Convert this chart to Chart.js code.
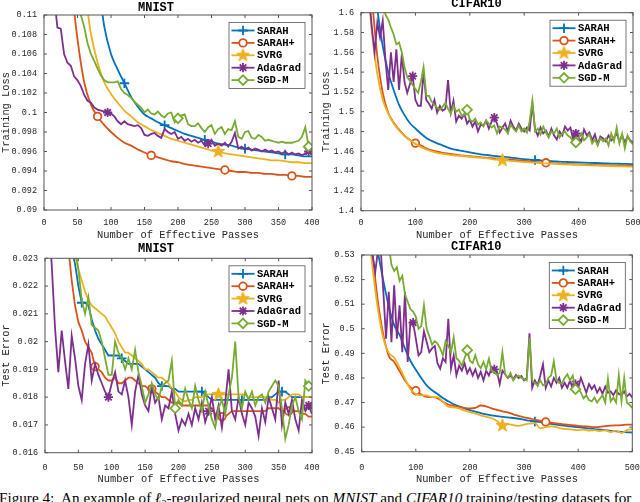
<!DOCTYPE html>
<html>
<head>
<meta charset="utf-8">
<script src="https://cdn.jsdelivr.net/npm/chart.js@4.4.1/dist/chart.umd.min.js"></script>
<style>
  body { margin: 0; background: #fff; width: 640px; height: 502px; overflow: hidden; position: relative; }
  .panel { position: absolute; }
  #caption { position: absolute; left: -1px; top: 489px; font: 15.2px "Liberation Serif", "Times New Roman", serif; white-space: nowrap; color: #000; }
  #caption sub { font-size: 10px; }
</style>
</head>
<body>
<div class="panel" style="left:0;top:0;width:320px;height:240px"><canvas id="mnistLoss"></canvas></div>
<div class="panel" style="left:320px;top:-3px;width:320px;height:243px"><canvas id="cifarLoss"></canvas></div>
<div class="panel" style="left:0;top:240px;width:320px;height:244.2px"><canvas id="mnistErr"></canvas></div>
<div class="panel" style="left:320px;top:240px;width:320px;height:244.2px"><canvas id="cifarErr"></canvas></div>
<div id="caption">Figure 4:&nbsp; An example of <i>ℓ</i><sub>2</sub>-regularized neural nets on <i>MNIST</i> and <i>CIFAR10</i> training/testing datasets for</div>
<script>
// sampling grids (number of effective passes)
function range(a, b, step) { const r = []; for (let v = a; v <= b; v += step) r.push(v); return r; }
const mnistFineX = range(0, 400, 5);
const mnistCoarseX = range(0, 400, 10);
const cifarFineX = range(0, 500, 5);
const cifarCoarseX = range(0, 500, 10);

const seriesNames = ['SARAH', 'SARAH+', 'SVRG', 'AdaGrad', 'SGD-M'];

// ---- MNIST training loss ----
const mnistLossSarah = [ // step 10
  null, null, null, null, null, null, null, null, .1140, .1088,
  .1060, .1044, .1030, .1016, .1006, .0998, .0994, .0990, .0987, .0984,
  .0981, .0978, .0976, .0974, .0972, .0970, .0968, .0967, .0966, .0964,
  .0963, .0962, .0961, .0960, .0959, .0958, .0957, .0957, .0956, .0955,
  .0955];
const mnistLossSarahPlus = [ // step 10
  null, null, null, null, .1135, .1075, .1031, .1008, .0996, .0987,
  .0980, .0974, .0969, .0966, .0962, .0959, .0956, .0954, .0952, .0950,
  .0949, .0947, .0946, .0945, .0944, .0943, .0942, .0941, .0940, .0939,
  .0939, .0938, .0938, .0937, .0937, .0936, .0936, .0935, .0935, .0934,
  .0934];
const mnistLossSvrg = [ // step 10
  null, null, null, null, null, null, .1130, .1081, .1051, .1031,
  .1019, .1010, .1002, .0996, .0990, .0986, .0982, .0979, .0976, .0973,
  .0971, .0969, .0967, .0965, .0963, .0961, .0960, .0958, .0957, .0956,
  .0955, .0954, .0953, .0952, .0951, .0951, .0950, .0949, .0949, .0948,
  .0948];
const mnistLossAdaGrad = [ // step 5
  null, null, null, .1120, .1087, .1086, .1060, .1051, .1048, .1037,
  .1033, .1027, .1018, .1012, .1010, .1005, .1003, .1002, .1001, .1000,
  .0999, .0996, .0991, .0988, .0991, .0988, .0987, .0986, .0987, .0984,
  .0977, .0976, .0978, .0979, .0976, .0974, .0983, .0980, .0978, .0980,
  .0973, .0975, .0971, .0973, .0970, .0972, .0969, .0971, .0966, .0968,
  .0972, .0966, .0968, .0966, .0969, .0965, .0970, .0979, .0963, .0965,
  .0962, .0964, .0961, .0963, .0962, .0960, .0962, .0960, .0961, .0959,
  .0960, .0958, .0960, .0957, .0959, .0957, .0958, .0956, .0958, .0960,
  .0957];
const mnistLossSgdm = [ // step 5
  null, null, null, null, null, null, null, null, null, null,
  .1115, .1100, .1088, .1071, .1060, .1053, .1045, .1038, .1033, .1031,
  .1031, .1031, .1032, .1024, .1020, .1018, .1015, .1011, .1008, .1005,
  .1000, .1003, .0999, .0998, .1001, .0997, .0995, .0999, .1000, .0990,
  .0994, .0997, .0998, .0988, .0986, .0986, .0989, .0984, .0980, .0985,
  .0987, .0978, .0983, .0985, .0978, .0983, .0982, .0991, .0975, .0973,
  .0980, .0981, .0974, .0973, .0977, .0975, .0971, .0972, .0971, .0970,
  .0969, .0970, .0969, .0969, .0969, .0970, .0971, .0975, .0985, .0965,
  .0964];

// ---- CIFAR10 training loss ----
const cifarLossSarah = [ // step 10
  null, null, null, 1.603, 1.566, 1.540, 1.522, 1.507, 1.4965, 1.4883,
  1.483, 1.478, 1.4735, 1.4705, 1.468, 1.466, 1.4637, 1.462, 1.461, 1.460,
  1.459, 1.458, 1.457, 1.4563, 1.4557, 1.455, 1.4545, 1.454, 1.4533, 1.4527,
  1.452, 1.4516, 1.4512, 1.4508, 1.4504, 1.450, 1.4497, 1.4494, 1.4492, 1.449,
  1.4488, 1.4486, 1.4484, 1.4482, 1.448, 1.4478, 1.4476, 1.4475, 1.4473, 1.4472,
  1.447];
const cifarLossSarahPlus = [ // step 10
  null, null, 1.615, 1.556, 1.519, 1.499, 1.489, 1.482, 1.4757, 1.4714,
  1.4683, 1.466, 1.463, 1.461, 1.4596, 1.4585, 1.4577, 1.457, 1.4562, 1.4555,
  1.455, 1.4545, 1.454, 1.4535, 1.453, 1.4527, 1.4522, 1.4518, 1.4513, 1.4508,
  1.4503, 1.4498, 1.4493, 1.4488, 1.4484, 1.448, 1.4477, 1.4474, 1.4471, 1.4469,
  1.4467, 1.4465, 1.4463, 1.4461, 1.446, 1.4459, 1.4458, 1.4457, 1.4456, 1.4455,
  1.4455];
const cifarLossSvrg = [ // step 10
  null, 1.650, 1.580, 1.538, 1.512, 1.498, 1.4883, 1.481, 1.4757, 1.4714,
  1.4675, 1.4645, 1.462, 1.460, 1.4585, 1.4575, 1.4567, 1.456, 1.4555, 1.455,
  1.4545, 1.454, 1.4535, 1.453, 1.4522, 1.4515, 1.451, 1.4505, 1.450, 1.4496,
  1.4492, 1.4488, 1.4485, 1.4481, 1.4478, 1.4475, 1.4472, 1.4469, 1.4466, 1.4464,
  1.4462, 1.446, 1.4458, 1.4456, 1.4454, 1.4452, 1.4451, 1.4449, 1.4448, 1.4446,
  1.4445];
const cifarLossAdaGrad = [ // step 5
  null, null, null, 1.615, 1.585, 1.560, 1.590, 1.575, 1.592, 1.552,
  1.522, 1.560, 1.530, 1.563, 1.522, 1.558, 1.530, 1.519, 1.528, 1.536,
  1.512, 1.506, 1.506, 1.540, 1.512, 1.508, 1.503, 1.512, 1.499, 1.506,
  1.501, 1.503, 1.532, 1.499, 1.511, 1.490, 1.496, 1.493, 1.498, 1.488,
  1.492, 1.485, 1.490, 1.480, 1.487, 1.486, 1.491, 1.483, 1.490, 1.494,
  1.488, 1.479, 1.484, 1.488, 1.480, 1.491, 1.485, 1.481, 1.488, 1.483,
  1.480, 1.484, 1.481, 1.508, 1.482, 1.476, 1.484, 1.478, 1.481, 1.475,
  1.483, 1.476, 1.472, 1.480, 1.476, 1.485, 1.481, 1.484, 1.472, 1.478,
  1.474, 1.470, 1.482, 1.476, 1.479, 1.471, 1.477, 1.467, 1.475, 1.473,
  1.470, 1.476, 1.471, 1.474, 1.478, 1.470, 1.476, 1.469, 1.475, 1.471,
  1.469];
const cifarLossSgdm = [ // step 5
  null, null, null, null, null, null, null, null, 1.612, 1.598,
  1.593, 1.585, 1.578, 1.568, 1.570, 1.560, 1.545, 1.535, 1.531, 1.527,
  1.523, 1.519, 1.530, 1.545, 1.516, 1.516, 1.510, 1.507, 1.504, 1.502,
  1.505, 1.509, 1.503, 1.498, 1.506, 1.500, 1.502, 1.496, 1.497, 1.502,
  1.492, 1.490, 1.493, 1.487, 1.489, 1.485, 1.491, 1.488, 1.484, 1.486,
  1.478, 1.485, 1.484, 1.482, 1.478, 1.487, 1.483, 1.480, 1.486, 1.480,
  1.483, 1.479, 1.490, 1.511, 1.480, 1.483, 1.477, 1.485, 1.479, 1.474,
  1.480, 1.478, 1.483, 1.474, 1.478, 1.480, 1.476, 1.474, 1.470, 1.469,
  1.473, 1.478, 1.471, 1.474, 1.477, 1.468, 1.472, 1.466, 1.473, 1.470,
  1.473, 1.466, 1.478, 1.470, 1.484, 1.468, 1.478, 1.463, 1.476, 1.470,
  1.467];

// ---- MNIST test error (all step 5) ----
const mnistErrSarah = [
  null, null, null, null, null, null, null, null, .0233, .0228,
  .0220, .0214, .0214, .0213, .0208, .0204, .0201, .0199, .0197, .0195,
  .0195, .0195, .0195, .0194, .0193, .0192, .0192, .0192, .0192, .0191,
  .0190, .0189, .0188, .0187, .0185, .0184, .0184, .0184, .0183, .0183,
  .0182, .0182, .0182, .0182, .0182, .0182, .0182, .0182, .0181, .0180,
  .0179, .0179, .0179, .0179, .0179, .0179, .0179, .0179, .0179, .0179,
  .0179, .0179, .0179, .0179, .0179, .0179, .0179, .0180, .0180, .0181,
  .0182, .0182, .0182, .0181, .0180, .0180, .0180, .0180, .0180, .0180,
  .0180];
const mnistErrSarahPlus = [
  null, null, null, null, null, null, null, .0234, .0222, .0213,
  .0207, .0204, .0200, .0198, .0196, .0191, .0190, .0189, .0187, .0186,
  .0186, .0187, .0185, .0185, .0186, .0187, .0187, .0186, .0185, .0184,
  .0184, .0183, .0183, .0182, .0181, .0180, .0180, .0179, .0178, .0178,
  .0178, .0177, .0177, .0177, .0177, .0177, .0177, .0177, .0177, .0177,
  .0176, .0174, .0173, .0173, .0173, .0174, .0175, .0175, .0175, .0175,
  .0175, .0175, .0175, .0175, .0175, .0175, .0175, .0176, .0176, .0176,
  .0176, .0175, .0175, .0175, .0175, .0175, .0175, .0174, .0174, .0173,
  .0173];
const mnistErrSvrg = [
  null, null, null, null, null, null, null, null, .0236, .0231,
  .0226, .0222, .0218, .0215, .0213, .0212, .0211, .0210, .0209, .0207,
  .0205, .0203, .0200, .0198, .0196, .0196, .0195, .0194, .0193, .0192,
  .0190, .0190, .0189, .0188, .0187, .0187, .0186, .0185, .0183, .0182,
  .0180, .0179, .01785, .0179, .0179, .0180, .0180, .0180, .0181, .0181,
  .0181, .0181, .0181, .0181, .0181, .0181, .0181, .0181, .0181, .0181,
  .0181, .0180, .0180, .0180, .0180, .0180, .0180, .0180, .0179, .0179,
  .0178, .0179, .0179, .0180, .0181, .0181, .0181, .0180, .0180, .0180,
  .0180];
const mnistErrAdaGrad = [
  null, .0245, .0228, .0205, .0189, .0204, .0193, .0183, .0202, .0194,
  .0184, .0179, .0192, .0199, .0186, .0192, .0188, .0185, .0182, .0180,
  .0185, .0189, .0182, .0181, .0186, .0180, .0170, .0182, .0188, .0181,
  .0177, .0175, .0184, .0178, .0180, .0172, .0177, .0176, .0182, .0174,
  .0168, .0172, .0170, .0174, .0170, .0176, .0172, .0178, .0171, .0175,
  .0180, .0172, .0177, .0169, .0178, .0190, .0175, .0172, .0180, .0174,
  .0170, .0178, .0176, .0173, .0166, .0176, .0171, .0180, .0176, .0172,
  .0186, .0170, .0178, .0174, .0179, .0172, .0168, .0179, .0175, .0177,
  .0174];
const mnistErrSgdm = [
  null, null, null, null, null, null, null, null, null, .0234,
  .0226, .0215, .0210, .0216, .0206, .0205, .0204, .0200, .0194, .0188,
  .0188, .0200, .0196, .0194, .0190, .0194, .0190, .0197, .0189, .0184,
  .0178, .0181, .0185, .0181, .0179, .0184, .0185, .0186, .0193, .0176,
  .0179, .0177, .0183, .0179, .0176, .0184, .0179, .0175, .0182, .0177,
  .0172, .0169, .0176, .0179, .0174, .0181, .0187, .0200, .0180, .0176,
  .0182, .0179, .0182, .0177, .0180, .0181, .0178, .0182, .0184, .0186,
  .0184, .0176, .0165, .0170, .0177, .0180, .0175, .0172, .0186, .0184,
  .0184];

// ---- CIFAR10 test error ----
const cifarErrSarah = [ // step 10
  null, null, null, .531, .5195, .5092, .5015, .4975, .4920, .4870,
  .4833, .4800, .4770, .4750, .4735, .4718, .4705, .4693, .4684, .4676,
  .4669, .4663, .4657, .4652, .4648, .4645, .4642, .4640, .4637, .4634,
  .4630, .4626, .4623, .4620, .4616, .4613, .4610, .4607, .4604, .4602,
  .4600, .4597, .4595, .4592, .4590, .4588, .4585, .4583, .4581, .4579,
  .4578];
const cifarErrSarahPlus = [ // step 10
  null, null, .5305, .5110, .4975, .4890, .4865, .4828, .4790, .4762,
  .4748, .4733, .4723, .4722, .4718, .4703, .4692, .4686, .4681, .4678,
  .4676, .4678, .4688, .4684, .4676, .4670, .4664, .4660, .4652, .4646,
  .4640, .4636, .4630, .4626, .4621, .4618, .4615, .4612, .4610, .4608,
  .4605, .4603, .4602, .4600, .4601, .4604, .4606, .4607, .4608, .4610,
  .4610];
const cifarErrSvrg = [ // step 10
  null, .5450, .5250, .5080, .4960, .4902, .4882, .4842, .4797, .4755,
  .4735, .4729, .4729, .4722, .4722, .4703, .4683, .4680, .4676, .4667,
  .4661, .4655, .4648, .4642, .4636, .4625, .4607, .4612, .4608, .4605,
  .4610, .4614, .4616, .4595, .4600, .4603, .4600, .4594, .4592, .4590,
  .4588, .4590, .4586, .4588, .4584, .4587, .4580, .4586, .4576, .4588,
  .4592];
const cifarErrAdaGrad = [ // step 5
  null, null, null, .5400, .5300, .5230, .5320, .5330, .5150, .4960,
  .5150, .4945, .5177, .4960, .5095, .4905, .5150, .4865, .5027, .5025,
  .4960, .4892, .4905, .4990, .4946, .4905, .4920, .4930, .4860, .4838,
  .4880, .4865, .5041, .4838, .4892, .4811, .4850, .4830, .4860, .4819,
  .4840, .4810, .4835, .4800, .4825, .4790, .4830, .4810, .4840, .4835,
  .4826, .4775, .4830, .4815, .4800, .4810, .4795, .4812, .4800, .4808,
  .4790, .4800, .4982, .4760, .4790, .4770, .4810, .4855, .4760, .4790,
  .4765, .4800, .4780, .4800, .4760, .4780, .4760, .4790, .4755, .4775,
  .4760, .4800, .4770, .4740, .4775, .4755, .4770, .4740, .4760, .4735,
  .4765, .4740, .4745, .4730, .4750, .4735, .4730, .4745, .4725, .4735,
  .4720];
const cifarErrSgdm = [ // step 5
  null, null, null, null, null, null, null, null, null, null,
  .5340, .5260, .5235, .5250, .5195, .5215, .5140, .5110, .5080, .5070,
  .5050, .5000, .5010, .5095, .5000, .4970, .4935, .4950, .4940, .4920,
  .4892, .4950, .4930, .4905, .4965, .4880, .4870, .4850, .4880, .4913,
  .4870, .4860, .4892, .4855, .4840, .4865, .4835, .4878, .4830, .4824,
  .4811, .4820, .4905, .4815, .4800, .4820, .4790, .4805, .4810, .4800,
  .4795, .4790, .4963, .4790, .4780, .4770, .4790, .4770, .4775, .4800,
  .4810, .4867, .4790, .4780, .4777, .4800, .4815, .4790, .4810, .4754,
  .4760, .4740, .4717, .4730, .4710, .4705, .4720, .4700, .4715, .4730,
  .4700, .4797, .4705, .4720, .4700, .4811, .4705, .4800, .4700, .4690,
  .4678];

// ticks
const mnistXTicks = [0, 50, 100, 150, 200, 250, 300, 350, 400];
const mnistXLabels = ['0', '50', '100', '150', '200', '250', '300', '350', '400'];
const cifarXTicks = [0, 100, 200, 300, 400, 500];
const cifarXLabels = ['0', '100', '200', '300', '400', '500'];
const mnistLossYTicks = [0.09, 0.092, 0.094, 0.096, 0.098, 0.1, 0.102, 0.104, 0.106, 0.108, 0.11];
const mnistLossYLabels = ['0.09', '0.092', '0.094', '0.096', '0.098', '0.1', '0.102', '0.104', '0.106', '0.108', '0.11'];
const cifarLossYTicks = [1.4, 1.42, 1.44, 1.46, 1.48, 1.5, 1.52, 1.54, 1.56, 1.58, 1.6];
const cifarLossYLabels = ['1.4', '1.42', '1.44', '1.46', '1.48', '1.5', '1.52', '1.54', '1.56', '1.58', '1.6'];
const mnistErrYTicks = [0.016, 0.017, 0.018, 0.019, 0.02, 0.021, 0.022, 0.023];
const mnistErrYLabels = ['0.016', '0.017', '0.018', '0.019', '0.02', '0.021', '0.022', '0.023'];
const cifarErrYTicks = [0.45, 0.46, 0.47, 0.48, 0.49, 0.5, 0.51, 0.52, 0.53];
const cifarErrYLabels = ['0.45', '0.46', '0.47', '0.48', '0.49', '0.5', '0.51', '0.52', '0.53'];

// where the markers sit (x values), per series
const mnistLossMarks = [[120, 180, 240, 300, 360], [80, 160, 270, 370], [260], [95, 245, 395], [200, 395]];
const cifarLossMarks = [[320], [100, 340], [260], [95, 245, 395], [195, 395]];
const mnistErrMarks = [[55, 115, 175, 235, 295, 355], [75, 160, 265, 365], [260], [95, 245, 395], [195, 395]];
const cifarErrMarks = [[320], [100, 340], [260], [95, 245, 395], [195, 395]];

const MONO = '"Liberation Mono", "DejaVu Sans Mono", monospace';
const TEXT = '#262626';
const AXIS = '#555';
const colors = ['#0072BD', '#D95319', '#EDB120', '#7E2F8E', '#77AC30'];

function pentagram(color) {
  const c = document.createElement('canvas');
  c.width = 15; c.height = 15;
  const g = c.getContext('2d');
  g.beginPath();
  for (let k = 0; k < 10; k++) {
    const r = k % 2 ? 2.8 : 6.8;
    const a = -Math.PI / 2 + k * Math.PI / 5;
    g.lineTo(7.5 + r * Math.cos(a), 7.6 + r * Math.sin(a));
  }
  g.closePath();
  g.fillStyle = color; g.strokeStyle = color; g.lineWidth = 1;
  g.fill(); g.stroke();
  return c;
}
const markerStyle = ['cross', 'circle', pentagram(colors[2]), 'star', 'rectRot'];
const markerSize = [4.8, 3.8, 5, 4.6, 4.8];
const markerFill = ['#fff', '#fff', colors[2], '#fff', '#fff'];

const pts = (xs, ys) => xs.map((x, i) => ({ x, y: ys[i] })).filter(p => p.y !== null && p.y !== undefined);

const axesBox = {
  id: 'axesBox',
  afterDraw(chart) {
    const { ctx, chartArea: a, scales: { x, y } } = chart;
    ctx.save();
    ctx.strokeStyle = AXIS;
    ctx.lineWidth = 1;
    ctx.beginPath();
    x.ticks.forEach(t => {
      const px = x.getPixelForValue(t.value);
      ctx.moveTo(px, a.bottom); ctx.lineTo(px, a.bottom - 3);
      ctx.moveTo(px, a.top); ctx.lineTo(px, a.top + 3);
    });
    y.ticks.forEach(t => {
      const py = y.getPixelForValue(t.value);
      ctx.moveTo(a.left, py); ctx.lineTo(a.left + 3, py);
      ctx.moveTo(a.right, py); ctx.lineTo(a.right - 3, py);
    });
    ctx.stroke();
    ctx.strokeRect(a.left, a.top, a.right - a.left, a.bottom - a.top);

    // legend box, MATLAB style
    const w = 76, h = 66;
    const bx = a.right - 7 - w, by = a.top + 7.5;
    ctx.fillStyle = '#fff';
    ctx.fillRect(bx, by, w, h);
    ctx.lineWidth = 0.8;
    ctx.strokeRect(bx, by, w, h);
    chart.data.datasets.forEach((ds, i) => {
      const ly = by + 8 + i * 12.4;
      ctx.strokeStyle = ds.borderColor;
      ctx.lineWidth = ds.borderWidth;
      ctx.beginPath();
      ctx.moveTo(bx + 2.5, ly); ctx.lineTo(bx + 25.5, ly);
      ctx.stroke();
      ctx.fillStyle = markerFill[i];
      Chart.helpers.drawPoint(ctx, { pointStyle: markerStyle[i], radius: markerSize[i], borderWidth: ds.borderWidth, rotation: 0 }, bx + 14, ly);
      ctx.fillStyle = '#000';
      ctx.font = 'bold 10.5px ' + MONO;
      ctx.textBaseline = 'middle';
      ctx.textAlign = 'left';
      ctx.fillText(ds.label, bx + 28, ly + 0.5);
    });
    ctx.restore();
  }
};

function makePanel(id, o) {
  const datasets = o.series.map((ys, i) => ({
    label: seriesNames[i],
    data: pts(o.xs[i], ys),
    borderColor: colors[i],
    backgroundColor: colors[i],
    borderWidth: 1.8,
    pointStyle: markerStyle[i],
    pointRadius: c => (c.raw && o.marks[i].includes(c.raw.x) ? markerSize[i] : 0),
    pointBorderWidth: 1.8,
    pointBorderColor: colors[i],
    pointBackgroundColor: markerFill[i],
    cubicInterpolationMode: o.smooth[i] ? 'monotone' : 'default',
    tension: 0,
    order: 5 - i
  }));
  new Chart(document.getElementById(id), {
    type: 'line',
    data: { datasets },
    options: {
      responsive: true,
      maintainAspectRatio: false,
      animation: false,
      layout: { padding: { left: 0, right: o.padRight, top: 0, bottom: 0 } },
      plugins: {
        legend: { display: false },
        tooltip: { enabled: false },
        title: {
          display: true, text: o.title, color: '#000',
          font: { family: MONO, size: 12, weight: 'bold', lineHeight: 1 },
          padding: { top: o.titlePad[0], bottom: o.titlePad[1] }
        }
      },
      scales: {
        x: {
          type: 'linear', min: o.xTicks[0], max: o.xTicks[o.xTicks.length - 1],
          grid: { display: false, drawTicks: false }, border: { display: false },
          afterBuildTicks: s => { s.ticks = o.xTicks.map(v => ({ value: v })); },
          ticks: { autoSkip: false, maxRotation: 0, padding: o.xTickPad, color: TEXT,
                   font: { family: MONO, size: 8.5 }, callback: (v, i) => o.xLabels[i] },
          title: { display: true, text: 'Number of Effective Passes', color: TEXT,
                   font: { family: MONO, size: 10.4, lineHeight: 1 }, padding: 0 },
          afterFit: s => { s.height = o.xHeight; s.paddingLeft = 0; s.paddingRight = 0; }
        },
        y: {
          type: 'linear', min: o.yTicks[0], max: o.yTicks[o.yTicks.length - 1],
          grid: { display: false, drawTicks: false }, border: { display: false },
          afterBuildTicks: s => { s.ticks = o.yTicks.map(v => ({ value: v })); },
          ticks: { autoSkip: false, padding: 7, color: TEXT,
                   font: { family: MONO, size: 8.5 }, callback: (v, i) => o.yLabels[i] },
          title: { display: true, text: o.yTitle, color: TEXT,
                   font: { family: MONO, size: 10.4, lineHeight: 1 }, padding: { top: 0.8, bottom: 0 } },
          afterFit: s => { s.width = o.yWidth; s.paddingTop = 0; s.paddingBottom = 0; }
        }
      }
    },
    plugins: [axesBox]
  });
}

makePanel('mnistLoss', {
  title: 'MNIST', yTitle: 'Training Loss',
  series: [mnistLossSarah, mnistLossSarahPlus, mnistLossSvrg, mnistLossAdaGrad, mnistLossSgdm],
  xs: [mnistCoarseX, mnistCoarseX, mnistCoarseX, mnistFineX, mnistFineX],
  smooth: [true, true, true, false, false],
  marks: mnistLossMarks,
  xTicks: mnistXTicks, xLabels: mnistXLabels, yTicks: mnistLossYTicks, yLabels: mnistLossYLabels,
  padRight: 8, yWidth: 44, xHeight: 30, xTickPad: 7.5, titlePad: [1.5, 1.5]
});
makePanel('cifarLoss', {
  title: 'CIFAR10', yTitle: 'Training Loss',
  series: [cifarLossSarah, cifarLossSarahPlus, cifarLossSvrg, cifarLossAdaGrad, cifarLossSgdm],
  xs: [cifarCoarseX, cifarCoarseX, cifarCoarseX, cifarFineX, cifarFineX],
  smooth: [true, true, true, false, false],
  marks: cifarLossMarks,
  xTicks: cifarXTicks, xLabels: cifarXLabels, yTicks: cifarLossYTicks, yLabels: cifarLossYLabels,
  padRight: 7, yWidth: 41, xHeight: 29.3, xTickPad: 6.8, titlePad: [0.5, 3.2]
});
makePanel('mnistErr', {
  title: 'MNIST', yTitle: 'Test Error',
  series: [mnistErrSarah, mnistErrSarahPlus, mnistErrSvrg, mnistErrAdaGrad, mnistErrSgdm],
  xs: [mnistFineX, mnistFineX, mnistFineX, mnistFineX, mnistFineX],
  smooth: [false, false, false, false, false],
  marks: mnistErrMarks,
  xTicks: mnistXTicks, xLabels: mnistXLabels, yTicks: mnistErrYTicks, yLabels: mnistErrYLabels,
  padRight: 8, yWidth: 45, xHeight: 31.5, xTickPad: 10, titlePad: [3.3, 3]
});
makePanel('cifarErr', {
  title: 'CIFAR10', yTitle: 'Test Error',
  series: [cifarErrSarah, cifarErrSarahPlus, cifarErrSvrg, cifarErrAdaGrad, cifarErrSgdm],
  xs: [cifarCoarseX, cifarCoarseX, cifarCoarseX, cifarFineX, cifarFineX],
  smooth: [true, true, true, false, false],
  marks: cifarErrMarks,
  xTicks: cifarXTicks, xLabels: cifarXLabels, yTicks: cifarErrYTicks, yLabels: cifarErrYLabels,
  padRight: 7.7, yWidth: 41.7, xHeight: 32.5, xTickPad: 11, titlePad: [0.7, 2.3]
});
</script>
</body>
</html>
